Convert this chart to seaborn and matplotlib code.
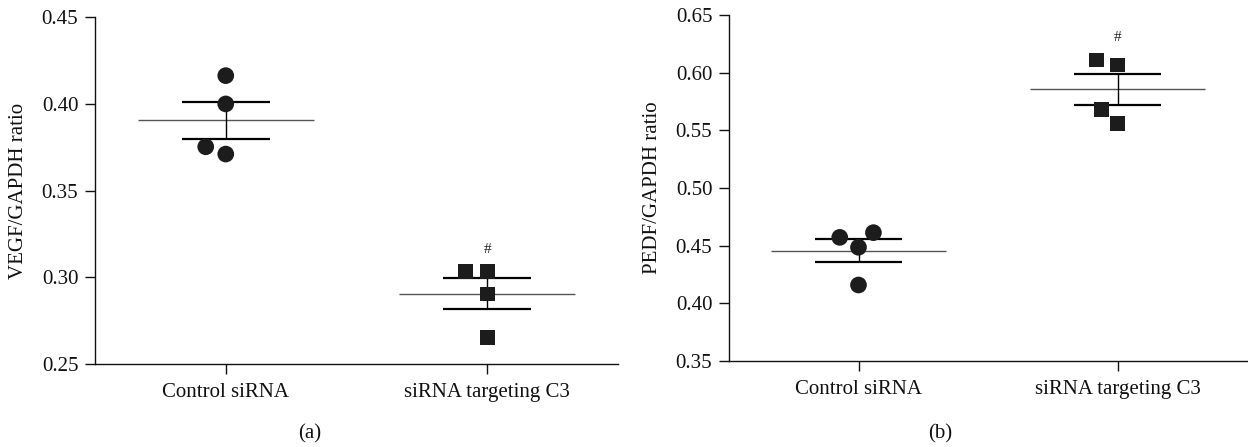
import numpy as np
import pandas as pd
import matplotlib
matplotlib.use("Agg")
import matplotlib.pyplot as plt
import seaborn as sns

# ---- data ----
categories = ["Control siRNA", "siRNA targeting C3"]
vegf_control = [0.4162, 0.3999, 0.3752, 0.3710]
vegf_c3 = [0.3032, 0.3032, 0.2903, 0.2654]
pedf_control = [0.4572, 0.4613, 0.4486, 0.4159]
pedf_c3 = [0.6110, 0.6066, 0.5682, 0.5561]
vegf_ticks = [0.25, 0.30, 0.35, 0.40, 0.45]
pedf_ticks = [0.35, 0.40, 0.45, 0.50, 0.55, 0.60, 0.65]
ylabels = ["VEGF/GAPDH ratio", "PEDF/GAPDH ratio"]
panel_tags = ["(a)", "(b)"]
sig_mark = "#"

sns.set_style("ticks")
plt.rcParams["font.family"] = ["Liberation Serif", "DejaVu Serif"]
plt.rcParams["axes.linewidth"] = 1.0
plt.rcParams["text.color"] = "#111111"
plt.rcParams["axes.labelcolor"] = "#111111"
plt.rcParams["xtick.color"] = "#111111"
plt.rcParams["ytick.color"] = "#111111"
plt.rcParams["axes.edgecolor"] = "#111111"

W, H = 1248, 447
fig = plt.figure(figsize=(W / 100, H / 100), dpi=100)
ax_a = fig.add_axes([95 / W, 1 - 364 / H, (618 - 95) / W, (364 - 17) / H])
ax_b = fig.add_axes([729 / W, 1 - 361 / H, (1247 - 729) / W, (361 - 15) / H])

FS = 15


def make_df(ctrl, c3):
    return pd.DataFrame({
        "group": [categories[0]] * len(ctrl) + [categories[1]] * len(c3),
        "value": list(ctrl) + list(c3),
    })


def draw_panel(ax, df, ticks, ylabel):
    markers = {categories[0]: "o", categories[1]: "s"}
    msize = {categories[0]: 12.0, categories[1]: 10.6}
    for g in categories:
        sub = df[df["group"] == g]
        # linewidth with no visible edge only widens the swarm spacing
        sns.swarmplot(data=sub, x="group", y="value", order=categories,
                      marker=markers[g], size=msize[g], color="#1c1c1c",
                      edgecolor="none", linewidth=14.7 - msize[g], ax=ax)
    stats = df.groupby("group", sort=False)["value"].agg(["mean", "std", "count"])
    stats["sem"] = stats["std"] / np.sqrt(stats["count"])
    for i, g in enumerate(categories):
        m, s = stats.loc[g, "mean"], stats.loc[g, "sem"]
        ax.hlines(m, i - 0.336, i + 0.336, color="#555555", lw=1.0, zorder=2)
        ax.hlines([m - s, m + s], i - 0.168, i + 0.168, color="black", lw=1.6, zorder=2)
        ax.vlines(i, m - s, m + s, color="black", lw=1.0, zorder=2)
    lo, hi = ticks[0], ticks[-1]
    ax.set_ylim(lo, hi)
    ax.set_xlim(-0.5, 1.5)
    ax.set_yticks(ticks)
    ax.set_yticklabels([f"{t:.2f}" for t in ticks])
    ax.set_xticks(range(len(categories)))
    ax.set_xticklabels(categories)
    ax.set_xlabel("")
    ax.set_ylabel(ylabel, fontsize=FS, labelpad=10)
    ax.tick_params(axis="both", labelsize=FS, length=7, width=1.0)
    ax.tick_params(axis="y", pad=5)
    ax.tick_params(axis="x", pad=7)
    for sp in ["top", "right"]:
        ax.spines[sp].set_visible(False)
    # significance mark over the siRNA C3 group
    top = df[df["group"] == categories[1]]["value"].max()
    ax.text(1, top + 0.065 * (hi - lo), sig_mark, ha="center", va="center",
            fontsize=11, color="#222222")


draw_panel(ax_a, make_df(vegf_control, vegf_c3), vegf_ticks, ylabels[0])
draw_panel(ax_b, make_df(pedf_control, pedf_c3), pedf_ticks, ylabels[1])

fig.text(310 / W, 1 - 434 / H, panel_tags[0], ha="center", va="center", fontsize=FS)
fig.text(940 / W, 1 - 434 / H, panel_tags[1], ha="center", va="center", fontsize=FS)

fig.savefig("out.png", dpi=100)
